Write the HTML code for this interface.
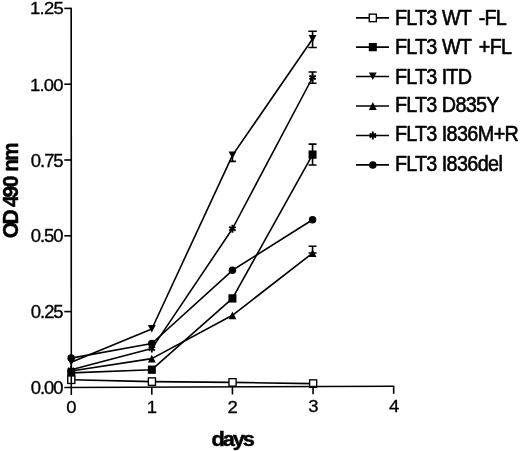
<!DOCTYPE html>
<html><head><meta charset="utf-8"><title>chart</title>
<style>html,body{margin:0;padding:0;background:#fff}svg{display:block;filter:blur(0.4px)}</style>
</head><body>
<svg width="520" height="451" viewBox="0 0 520 451">
<rect width="520" height="451" fill="#fff"/>
<g stroke="#000" stroke-width="1.6" fill="none" stroke-linejoin="round">
<polyline points="71.20,379.70 151.82,381.60 232.44,382.40 312.56,383.60"/>
<polyline points="71.20,372.90 151.82,369.70 232.44,298.40 312.56,154.60"/>
<polyline points="71.20,362.30 151.82,329.00 232.44,155.40 312.56,39.00"/>
<polyline points="71.20,371.00 151.82,358.60 232.44,315.30 312.56,253.10"/>
<polyline points="71.20,369.80 151.82,348.60 232.44,228.75 312.56,77.50"/>
<polyline points="71.20,358.10 151.82,343.50 232.44,270.30 312.56,219.70"/>
<path d="M232.44 157.0V161.4M228.99 161.4H235.89"/>
<path d="M312.56 31.25V47.5M308.31 31.25H316.81M308.31 47.5H316.81"/>
<path d="M312.56 72.0V83.25M308.56 72.0H316.56M308.56 83.25H316.56"/>
<path d="M312.56 144.1V165.0M308.56 144.1H316.56M308.56 165.0H316.56"/>
<path d="M312.56 246.2V253.0M308.56 246.2H316.56M308.56 253.0H316.56"/>
</g>
<path d="M67.30 358.30H75.10L71.20 365.90Z" fill="#000"/>
<path d="M147.92 325.00H155.72L151.82 332.60Z" fill="#000"/>
<path d="M228.54 151.40H236.34L232.44 159.00Z" fill="#000"/>
<path d="M308.66 35.00H316.46L312.56 42.60Z" fill="#000"/>
<path d="M67.30 374.90H75.10L71.20 367.10Z" fill="#000"/>
<path d="M147.92 362.50H155.72L151.82 354.70Z" fill="#000"/>
<path d="M228.54 319.20H236.34L232.44 311.40Z" fill="#000"/>
<path d="M308.66 257.00H316.46L312.56 249.20Z" fill="#000"/>
<path d="M71.20 365.80L71.20 373.80M68.00 367.95L74.40 371.65M74.40 367.95L68.00 371.65" stroke="#000" stroke-width="1.9" fill="none"/>
<path d="M151.82 344.60L151.82 352.60M148.62 346.75L155.02 350.45M155.02 346.75L148.62 350.45" stroke="#000" stroke-width="1.9" fill="none"/>
<path d="M232.44 224.75L232.44 232.75M229.24 226.90L235.64 230.60M235.64 226.90L229.24 230.60" stroke="#000" stroke-width="1.9" fill="none"/>
<path d="M312.56 73.50L312.56 81.50M309.36 75.65L315.76 79.35M315.76 75.65L309.36 79.35" stroke="#000" stroke-width="1.9" fill="none"/>
<circle cx="71.20" cy="358.10" r="3.75" fill="#000"/>
<circle cx="151.82" cy="343.50" r="3.75" fill="#000"/>
<circle cx="232.44" cy="270.30" r="3.75" fill="#000"/>
<circle cx="312.56" cy="219.70" r="3.75" fill="#000"/>
<rect x="67.20" y="368.75" width="8" height="8.3" fill="#000"/>
<rect x="147.82" y="365.55" width="8" height="8.3" fill="#000"/>
<rect x="228.44" y="294.25" width="8" height="8.3" fill="#000"/>
<rect x="308.56" y="150.45" width="8" height="8.3" fill="#000"/>
<rect x="67.75" y="375.95" width="7.1" height="7.5" fill="#fff" stroke="#000" stroke-width="1.35"/>
<rect x="148.37" y="377.85" width="7.1" height="7.5" fill="#fff" stroke="#000" stroke-width="1.35"/>
<rect x="228.99" y="378.65" width="7.1" height="7.5" fill="#fff" stroke="#000" stroke-width="1.35"/>
<rect x="309.61" y="379.85" width="7.1" height="7.5" fill="#fff" stroke="#000" stroke-width="1.35"/>
<g stroke="#000" stroke-width="1.6" fill="none" stroke-linecap="butt">
<path d="M71.2 7.7L71.3 394.9"/>
<path d="M64.3 387.53L394.2 386.21"/>
<path d="M64.3 311.60H71.2"/>
<path d="M64.3 235.80H71.2"/>
<path d="M64.3 160.00H71.2"/>
<path d="M64.3 84.20H71.2"/>
<path d="M64.3 8.40H71.2"/>
<path d="M151.82 387.18V394.78"/>
<path d="M232.44 386.85V394.45"/>
<path d="M313.06 386.53V394.13"/>
<path d="M393.68 386.21V393.81"/>
</g>
<g font-family="'Liberation Sans', Arial, sans-serif" font-size="16.8" fill="#000" stroke="#000" stroke-width="0.3">
<text transform="translate(31.5 394.06) scale(1.1 1.06)"><tspan x="-0.66" letter-spacing="-0.947">0.00</tspan></text>
<text transform="translate(31.5 318.26) scale(1.1 1.06)"><tspan x="-0.66" letter-spacing="-0.930">0.25</tspan></text>
<text transform="translate(31.5 242.46) scale(1.1 1.06)"><tspan x="-0.66" letter-spacing="-0.947">0.50</tspan></text>
<text transform="translate(31.5 166.66) scale(1.1 1.06)"><tspan x="-0.66" letter-spacing="-0.930">0.75</tspan></text>
<text transform="translate(31.5 90.51) scale(1.1 1.0)"><tspan x="-1.28" letter-spacing="-0.739">1.00</tspan></text>
<text transform="translate(31.5 14.42) scale(1.1 0.95)"><tspan x="-1.28" letter-spacing="-0.722">1.25</tspan></text>
<text transform="translate(71.50 413.10) scale(1.1 1.0)" x="-4.67">0</text>
<text transform="translate(152.12 412.86) scale(1.1 1.0)" x="-4.90">1</text>
<text transform="translate(232.74 412.62) scale(1.1 1.0)" x="-4.67">2</text>
<text transform="translate(313.36 412.37) scale(1.1 1.0)" x="-4.62">3</text>
<text transform="translate(393.98 412.13) scale(1.1 1.0)" x="-4.62">4</text>
</g>
<g font-family="'Liberation Sans', Arial, sans-serif" font-weight="bold" fill="#000" stroke="#000" stroke-width="0.45" stroke-linejoin="round">
<text font-size="21" transform="translate(17.9 237.7) rotate(-90) scale(1 1.09)" y="0"><tspan x="-0.66">O</tspan><tspan x="13.16">D</tspan> <tspan x="30.76">4</tspan><tspan x="40.14">9</tspan><tspan x="50.38">0</tspan> <tspan x="66.00">n</tspan><tspan x="76.82">m</tspan></text>
<text font-size="20" transform="translate(212.5 445.5) scale(1.09 1)"><tspan x="-0.82" letter-spacing="-1.988">days</tspan></text>
</g>
<g stroke="#000" stroke-width="1.6">
<path d="M356 17.9H389"/>
<path d="M356 47.1H389"/>
<path d="M356 76.5H389"/>
<path d="M356 106.0H389"/>
<path d="M356 135.5H389"/>
<path d="M356 164.9H389"/>
</g>
<rect x="369.25" y="14.15" width="7.1" height="7.5" fill="#fff" stroke="#000" stroke-width="1.35"/>
<rect x="368.80" y="42.95" width="8" height="8.3" fill="#000"/>
<path d="M368.90 72.50H376.70L372.80 80.10Z" fill="#000"/>
<path d="M368.90 109.90H376.70L372.80 102.10Z" fill="#000"/>
<path d="M372.80 131.50L372.80 139.50M369.60 133.65L376.00 137.35M376.00 133.65L369.60 137.35" stroke="#000" stroke-width="1.9" fill="none"/>
<circle cx="372.80" cy="164.90" r="3.75" fill="#000"/>
<g font-family="'Liberation Sans', Arial, sans-serif" font-size="19.8" fill="#000" stroke="#000" stroke-width="0.55" stroke-linejoin="round">
<text transform="translate(0 24.7) scale(1 1.075)"><tspan x="394.88" letter-spacing="-0.750">FLT3</tspan> <tspan x="441.91" letter-spacing="-0.741">WT</tspan> <tspan x="478.87" letter-spacing="-0.956">-FL</tspan></text>
<text transform="translate(0 53.5) scale(1 1.075)"><tspan x="394.88" letter-spacing="-0.750">FLT3</tspan> <tspan x="441.91" letter-spacing="-0.741">WT</tspan> <tspan x="478.78" letter-spacing="-0.648">+FL</tspan></text>
<text transform="translate(0 83.5) scale(1 1.075)"><tspan x="394.88" letter-spacing="-0.750">FLT3</tspan> <tspan x="441.67" letter-spacing="-0.810">ITD</tspan></text>
<text transform="translate(0 111.9) scale(1 1.075)"><tspan x="394.88" letter-spacing="-0.750">FLT3</tspan> <tspan x="441.88" letter-spacing="-0.745">D835Y</tspan></text>
<text transform="translate(0 141.4) scale(1 1.075)"><tspan x="394.88" letter-spacing="-0.750">FLT3</tspan> <tspan x="441.67" letter-spacing="-0.608">I836M+R</tspan></text>
<text transform="translate(0 171.4) scale(1 1.075)"><tspan x="394.88" letter-spacing="-0.750">FLT3</tspan> <tspan x="441.67" letter-spacing="-0.635">I836del</tspan></text>
</g>
</svg>
</body></html>
